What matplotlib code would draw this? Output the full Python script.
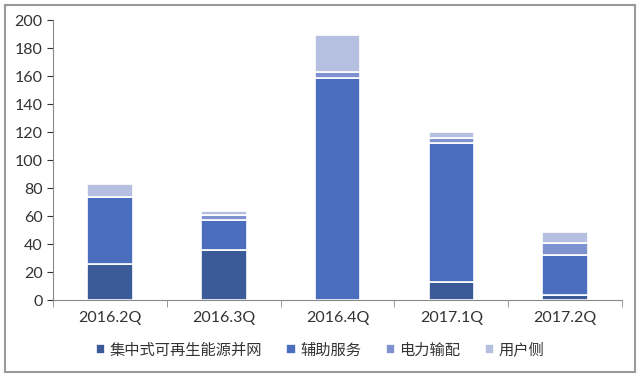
import matplotlib
matplotlib.use("Agg")
import matplotlib.pyplot as plt
from matplotlib.patches import Rectangle
import numpy as np

plt.rcParams['font.family'] = ['Lato', 'Noto Sans CJK SC', 'DejaVu Sans']

categories = ["2016.2Q", "2016.3Q", "2016.4Q", "2017.1Q", "2017.2Q"]
series_names = ["集中式可再生能源并网", "辅助服务", "电力输配", "用户侧"]
renewable = [26, 36, 0, 13, 4]
ancillary = [48, 21, 159, 99, 28]
transmission = [0, 4, 4, 4, 9]
user_side = [9, 3, 26, 4, 8]
colors = ["#3B5A98", "#4A6DBD", "#7D92CF", "#B5C0E0"]

fig = plt.figure(figsize=(6.4, 3.79), dpi=100)
ax = fig.add_axes([0.083, 0.208, 0.889, 0.739])

x = np.arange(len(categories))
bottom = np.zeros(len(categories))
for name, vals, c in zip(series_names, [renewable, ancillary, transmission, user_side], colors):
    ax.bar(x, vals, width=0.40, bottom=bottom, color=c, edgecolor="white",
           linewidth=1.2, label=name)
    bottom += np.array(vals)

ax.set_xlim(-0.5, len(categories) - 0.5)
ax.set_ylim(0, 200)
ax.set_yticks(range(0, 201, 20))
ax.set_xticks(x)
ax.set_xticklabels(categories, fontsize=11.5, color="#333333")
ax.tick_params(axis="x", length=0, pad=8)
ax.set_xticks(np.arange(-0.5, len(categories), 1.0), minor=True)
ax.tick_params(axis="x", which="minor", length=5, color="#888888", direction="out")
ax.tick_params(axis="y", labelsize=11.5, colors="#333333", length=4, direction="out")
for s in ["top", "right"]:
    ax.spines[s].set_visible(False)
ax.spines["left"].set_color("#888888")
ax.spines["bottom"].set_color("#888888")

leg = fig.legend(loc="lower center", bbox_to_anchor=(0.5, 0.02), ncol=4, frameon=False,
                 fontsize=11, handlelength=0.6, handleheight=0.6, handletextpad=0.3,
                 columnspacing=1.6)
for t in leg.get_texts():
    t.set_color("#333333")

fig.patches.append(Rectangle((0.008, 0.018), 0.984, 0.968, transform=fig.transFigure,
                             fill=False, edgecolor="#999999", linewidth=1.5))

fig.savefig("out.png", dpi=100)
